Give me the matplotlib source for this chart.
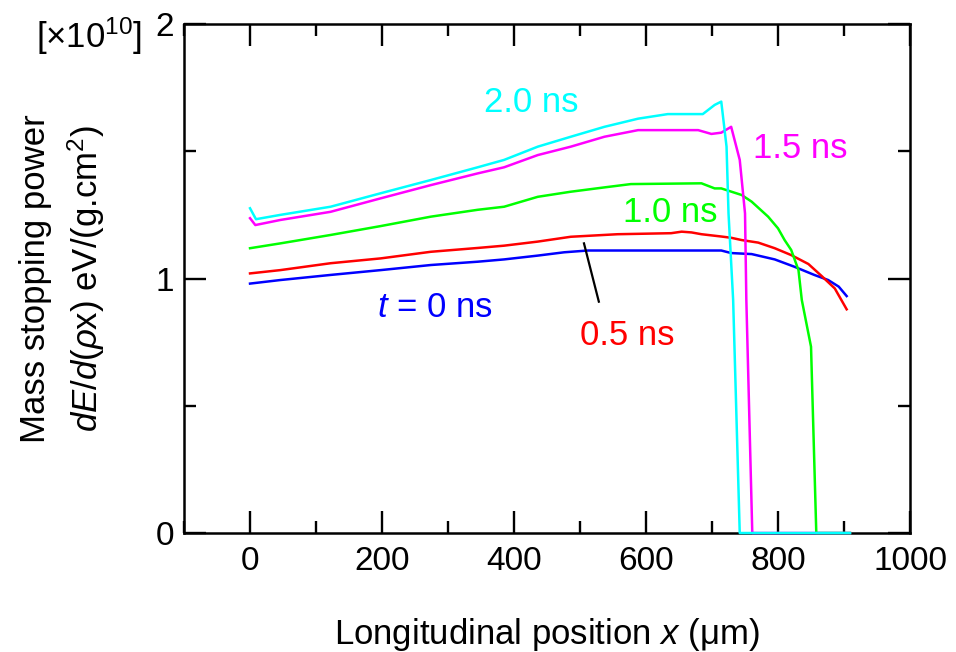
import matplotlib
matplotlib.use('Agg')
import matplotlib.pyplot as plt
from matplotlib.ticker import MultipleLocator

plt.rcParams['font.family'] = ['Liberation Sans', 'DejaVu Sans']
plt.rcParams['mathtext.fontset'] = 'custom'
plt.rcParams['mathtext.rm'] = 'Liberation Sans'
plt.rcParams['mathtext.it'] = 'Liberation Sans:italic'

# stopping power profiles (units of 1e10 eV/(g.cm^2)) vs position in um
x_t0 = [0, 46, 122, 198, 274, 345, 385, 436, 476, 512, 600, 714, 729, 760, 795, 825, 855, 876, 892, 904]
y_t0 = [0.98, 0.994, 1.014, 1.033, 1.053, 1.066, 1.075, 1.09, 1.103, 1.11, 1.11, 1.11, 1.10, 1.096,
        1.075, 1.046, 1.014, 0.994, 0.968, 0.931]

x_t05 = [0, 46, 122, 198, 274, 345, 385, 436, 486, 557, 638, 654, 669, 684, 714, 729, 745, 760,
         770, 795, 820, 846, 866, 886, 904]
y_t05 = [1.02, 1.033, 1.06, 1.079, 1.105, 1.12, 1.129, 1.145, 1.164, 1.174, 1.178, 1.184, 1.181,
         1.174, 1.165, 1.16, 1.151, 1.145, 1.141, 1.119, 1.092, 1.057, 1.01, 0.961, 0.879]

x_t10 = [0, 46, 122, 198, 274, 345, 385, 436, 486, 537, 577, 684, 704, 714, 745, 760, 785, 800,
         810, 820, 831, 836, 850, 858, 909]
y_t10 = [1.119, 1.138, 1.171, 1.206, 1.243, 1.27, 1.282, 1.321, 1.341, 1.358, 1.371, 1.374, 1.354,
         1.354, 1.328, 1.302, 1.243, 1.197, 1.151, 1.112, 1.033, 0.916, 0.732, 0.0, 0.0]

x_t15 = [0, 8, 46, 122, 198, 274, 345, 385, 436, 486, 537, 588, 679, 699, 714, 729, 742, 750,
         752, 761, 909]
y_t15 = [1.237, 1.21, 1.23, 1.262, 1.315, 1.367, 1.413, 1.437, 1.485, 1.518, 1.557, 1.583, 1.583,
         1.568, 1.573, 1.596, 1.466, 1.256, 0.916, 0.0, 0.0]

x_t20 = [0, 9, 46, 122, 198, 274, 345, 385, 436, 486, 537, 588, 633, 686, 704, 714, 722, 725,
         732, 742, 909]
y_t20 = [1.276, 1.233, 1.25, 1.282, 1.335, 1.387, 1.437, 1.466, 1.518, 1.557, 1.596, 1.628, 1.646,
         1.646, 1.682, 1.695, 1.518, 1.256, 0.916, 0.0, 0.0]

fig = plt.figure(figsize=(9.56, 6.52), dpi=100)
ax = fig.add_axes([0.1925, 0.1825, 0.7594, 0.7807])

lw = 1.8
ax.plot(x_t0, y_t0, color='#0000ff', lw=lw, clip_on=False)
ax.plot(x_t05, y_t05, color='#ff0000', lw=lw, clip_on=False)
ax.plot(x_t10, y_t10, color='#00ff00', lw=lw, clip_on=False)
ax.plot(x_t15, y_t15, color='#ff00ff', lw=lw, clip_on=False)
ax.plot(x_t20, y_t20, color='#00ffff', lw=lw, clip_on=False)

# pointer for the 0.5 ns curve
ax.plot([506, 528.5], [1.138, 0.909], color='k', lw=1.6)

fs = 25
ax.text(426, 1.654, '2.0 ns', color='#00ffff', fontsize=fs, ha='center', va='baseline')
ax.text(834, 1.473, '1.5 ns', color='#ff00ff', fontsize=fs, ha='center', va='baseline')
ax.text(637, 1.222, '1.0 ns', color='#00ff00', fontsize=fs, ha='center', va='baseline')
ax.text(280, 0.85, r'$\mathit{t}$ = 0 ns', color='#0000ff', fontsize=fs, ha='center', va='baseline')
ax.text(572, 0.739, '0.5 ns', color='#ff0000', fontsize=fs, ha='center', va='baseline')

ax.set_xlim(-100, 1000)
ax.set_ylim(0, 2)
ax.xaxis.set_major_locator(MultipleLocator(200))
ax.xaxis.set_minor_locator(MultipleLocator(100))
ax.yaxis.set_major_locator(MultipleLocator(1))
ax.yaxis.set_minor_locator(MultipleLocator(0.5))
ax.tick_params(which='both', direction='in', top=True, right=True, width=1.7, labelsize=24)
ax.tick_params(which='major', length=16)
ax.tick_params(which='minor', length=8.5)
ax.tick_params(axis='x', pad=9)
ax.tick_params(axis='y', pad=7)
for s in ax.spines.values():
    s.set_linewidth(1.8)
    s.set_zorder(1)

fig.text(0.038, 0.926, r'[×10$^{10}$]', fontsize=fs, ha='left', va='baseline')
fig.text(0.066, 0.573, 'Mass stopping power\n' + r'$\mathit{dE/d}(\mathit{\rho}$x) eV/(g.cm$^2$)',
         fontsize=fs, rotation=90, ha='center', va='center', multialignment='center', linespacing=1.4)
fig.text(0.572, 0.013, r'Longitudinal position $\mathit{x}$ (μm)', fontsize=fs, ha='center', va='baseline')

fig.savefig('out.png', dpi=100)
